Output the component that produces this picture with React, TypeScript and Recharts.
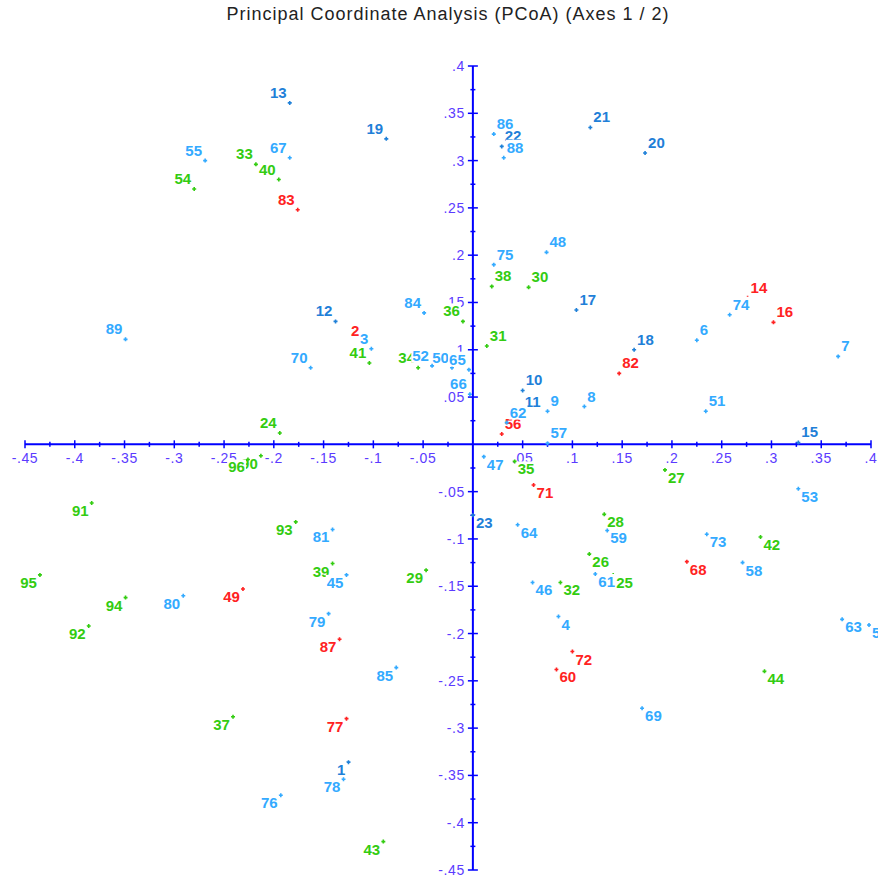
import { ScatterChart, Scatter, XAxis, YAxis } from 'recharts';

const sampleIds = [
  1, 2, 3, 4, 5, 6, 7, 8, 9, 10, 11, 12, 13, 14, 15, 16, 17, 18, 19, 20, 21, 22, 23, 24,
  25, 26, 27, 28, 29, 30, 31, 32, 33, 34, 35, 36, 37, 38, 39, 40, 41, 42, 43, 44, 45, 46, 47, 48,
  49, 50, 51, 52, 53, 54, 55, 56, 57, 58, 59, 60, 61, 62, 63, 64, 65, 66, 67, 68, 69, 70, 71, 72,
  73, 74, 75, 76, 77, 78, 79, 80, 81, 82, 83, 84, 85, 86, 87, 88, 89, 90, 91, 92, 93, 94, 95, 96,
];

const axis1 = [
  -0.125, -0.111, -0.102, 0.086, 0.398, 0.225, 0.367, 0.112, 0.075, 0.05, 0.049, -0.138,
  -0.184, 0.276, 0.327, 0.302, 0.104, 0.162, -0.087, 0.173, 0.118, 0.029, 0.0, -0.194,
  0.141, 0.117, 0.193, 0.132, -0.047, 0.056, 0.014, 0.088, -0.218, -0.055, 0.042, -0.01,
  -0.241, 0.019, -0.141, -0.195, -0.104, 0.289, -0.09, 0.293, -0.127, 0.06, 0.011, 0.074,
  -0.231, -0.021, 0.234, -0.041, 0.327, -0.28, -0.269, 0.029, 0.075, 0.271, 0.135, 0.084,
  0.123, 0.034, 0.371, 0.045, -0.004, -0.003, -0.184, 0.215, 0.17, -0.163, 0.061, 0.1,
  0.235, 0.258, 0.021, -0.193, -0.127, -0.13, -0.145, -0.291, -0.141, 0.147, -0.176, -0.049,
  -0.077, 0.021, -0.134, 0.031, -0.349, -0.213, -0.383, -0.386, -0.178, -0.349, -0.435, -0.226,
];

const axis2 = [
  -0.336, 0.109, 0.101, -0.182, -0.191, 0.11, 0.093, 0.04, 0.035, 0.057, 0.034, 0.13,
  0.361, 0.155, 0.002, 0.129, 0.142, 0.1, 0.323, 0.308, 0.335, 0.315, -0.075, 0.012,
  -0.138, -0.116, -0.027, -0.074, -0.133, 0.166, 0.104, -0.146, 0.296, 0.081, -0.018, 0.13,
  -0.288, 0.167, -0.126, 0.28, 0.086, -0.098, -0.42, -0.24, -0.138, -0.146, -0.013, 0.203,
  -0.153, 0.081, 0.035, 0.083, -0.047, 0.27, 0.3, 0.011, 0.001, -0.125, -0.091, -0.238,
  -0.137, 0.023, -0.185, -0.085, 0.079, 0.053, 0.303, -0.124, -0.279, 0.081, -0.043, -0.219,
  -0.095, 0.137, 0.19, -0.371, -0.29, -0.354, -0.179, -0.16, -0.09, 0.075, 0.248, 0.139,
  -0.236, 0.328, -0.206, 0.303, 0.111, -0.012, -0.062, -0.192, -0.082, -0.162, -0.138, -0.016,
];

// d = dark blue, l = light blue, g = green, r = red
const groups = [
  'd', 'r', 'l', 'l', 'l', 'l', 'l', 'l', 'l', 'd', 'd', 'd', 'd', 'r', 'd', 'r', 'd', 'd', 'd', 'd', 'd', 'd', 'd', 'g',
  'g', 'g', 'g', 'g', 'g', 'g', 'g', 'g', 'g', 'g', 'g', 'g', 'g', 'g', 'g', 'g', 'g', 'g', 'g', 'g', 'l', 'l', 'l', 'l',
  'r', 'l', 'l', 'l', 'l', 'g', 'l', 'r', 'l', 'l', 'l', 'r', 'l', 'l', 'l', 'l', 'l', 'l', 'l', 'r', 'l', 'l', 'r', 'r',
  'l', 'l', 'l', 'l', 'r', 'l', 'l', 'l', 'l', 'r', 'r', 'l', 'l', 'l', 'r', 'l', 'l', 'g', 'g', 'g', 'g', 'g', 'g', 'g',
];

const groupColors: Record<string, string> = {
  d: '#1f80d8',
  l: '#33aaff',
  g: '#33cc11',
  r: '#ff2222',
};

const xTicks = [-0.45, -0.4, -0.35, -0.3, -0.25, -0.2, -0.15, -0.1, -0.05, 0.05, 0.1, 0.15, 0.2, 0.25, 0.3, 0.35, 0.4];
const xTickLabels = ['-.45', '-.4', '-.35', '-.3', '-.25', '-.2', '-.15', '-.1', '-.05', '.05', '.1', '.15', '.2', '.25', '.3', '.35', '.4'];
const yTicks = [0.4, 0.35, 0.3, 0.25, 0.2, 0.15, 0.1, 0.05, -0.05, -0.1, -0.15, -0.2, -0.25, -0.3, -0.35, -0.4, -0.45];
const yTickLabels = ['.4', '.35', '.3', '.25', '.2', '.15', '.1', '.05', '-.05', '-.1', '-.15', '-.2', '-.25', '-.3', '-.35', '-.4', '-.45'];
const minorTicks = [-0.425, -0.375, -0.325, -0.275, -0.225, -0.175, -0.125, -0.075, -0.025, 0.025, 0.075, 0.125, 0.175, 0.225, 0.275, 0.325, 0.375];

const AXIS = '#0000ff';
const TICK_TEXT = '#5b3bff';
const FONT = '"Liberation Sans", Arial, sans-serif';

const points = sampleIds.map((id, i) => ({
  x: axis1[i],
  y: axis2[i],
  id,
  color: groupColors[groups[i]],
}));

const xTickData = xTicks.map((v, i) => ({ x: v, y: 0, label: xTickLabels[i], major: true }))
  .concat(minorTicks.map((v) => ({ x: v, y: 0, label: '', major: false })));
const yTickData = yTicks.map((v, i) => ({ x: 0, y: v, label: yTickLabels[i], major: true }))
  .concat(minorTicks.map((v) => ({ x: 0, y: v, label: '', major: false })));

const xAxisLine = [{ x: -0.45, y: 0 }, { x: 0.4, y: 0 }];
const yAxisLine = [{ x: 0, y: -0.45 }, { x: 0, y: 0.4 }];

const XTick = (props: any) => {
  const { cx, cy, payload } = props;
  const h = payload.major ? 4 : 2.5;
  return (
    <g>
      <line x1={cx} x2={cx} y1={cy - h} y2={cy + h} stroke={AXIS} strokeWidth={1.5} />
      {payload.label && (
        <text x={cx} y={cy + 19} textAnchor="middle" fontSize={14} letterSpacing={0.6} fontFamily={FONT} fill={TICK_TEXT}>
          {payload.label}
        </text>
      )}
    </g>
  );
};

const YTick = (props: any) => {
  const { cx, cy, payload } = props;
  const w = payload.major ? 5 : 2.5;
  return (
    <g>
      <line x1={cx - w} x2={cx + w} y1={cy} y2={cy} stroke={AXIS} strokeWidth={1.5} />
      {payload.label && (
        <text x={cx - 8} y={cy + 5} textAnchor="end" fontSize={14} letterSpacing={0.6} fontFamily={FONT} fill={TICK_TEXT}>
          {payload.label}
        </text>
      )}
    </g>
  );
};

const SamplePoint = (props: any) => {
  const { cx, cy, payload } = props;
  const label = String(payload.id);
  const w = label.length * 8.4;
  const right = payload.x >= 0;
  const top = payload.y >= 0;
  const tx = right ? cx + 3 : cx - 3 - w;
  const base = top ? cy - 5 : cy + 13;
  return (
    <g>
      <path d={`M${cx - 2},${cy}H${cx + 2}M${cx},${cy - 2}V${cy + 2}`} stroke={payload.color} strokeWidth={1.6} />
      <rect x={tx - 1} y={base - 13} width={w + 2} height={15} fill="#ffffff" />
      <text x={tx} y={base} fontSize={15} fontWeight="bold" fontFamily={FONT} fill={payload.color}>
        {label}
      </text>
    </g>
  );
};

const Empty = () => <g />;

export default function App() {
  return (
    <div style={{ position: 'absolute', left: 0, top: 0, width: 878, height: 882, background: '#fff' }}>
      <div
        style={{
          position: 'absolute',
          left: 25,
          width: 846,
          top: 4,
          textAlign: 'center',
          fontFamily: FONT,
          fontSize: 18,
          letterSpacing: 1,
          color: '#222',
        }}
      >
        Principal Coordinate Analysis (PCoA) (Axes 1 / 2)
      </div>
      <ScatterChart width={878} height={882} margin={{ top: 66, right: 7, bottom: 12, left: 25 }}>
        <XAxis type="number" dataKey="x" domain={[-0.45, 0.4]} hide />
        <YAxis type="number" dataKey="y" domain={[-0.45, 0.4]} hide />
        <Scatter data={xAxisLine} line={{ stroke: AXIS, strokeWidth: 2 }} shape={Empty} isAnimationActive={false} />
        <Scatter data={yAxisLine} line={{ stroke: AXIS, strokeWidth: 2 }} shape={Empty} isAnimationActive={false} />
        <Scatter data={xTickData} shape={XTick} isAnimationActive={false} />
        <Scatter data={yTickData} shape={YTick} isAnimationActive={false} />
        <Scatter data={points} shape={SamplePoint} isAnimationActive={false} />
      </ScatterChart>
    </div>
  );
}
